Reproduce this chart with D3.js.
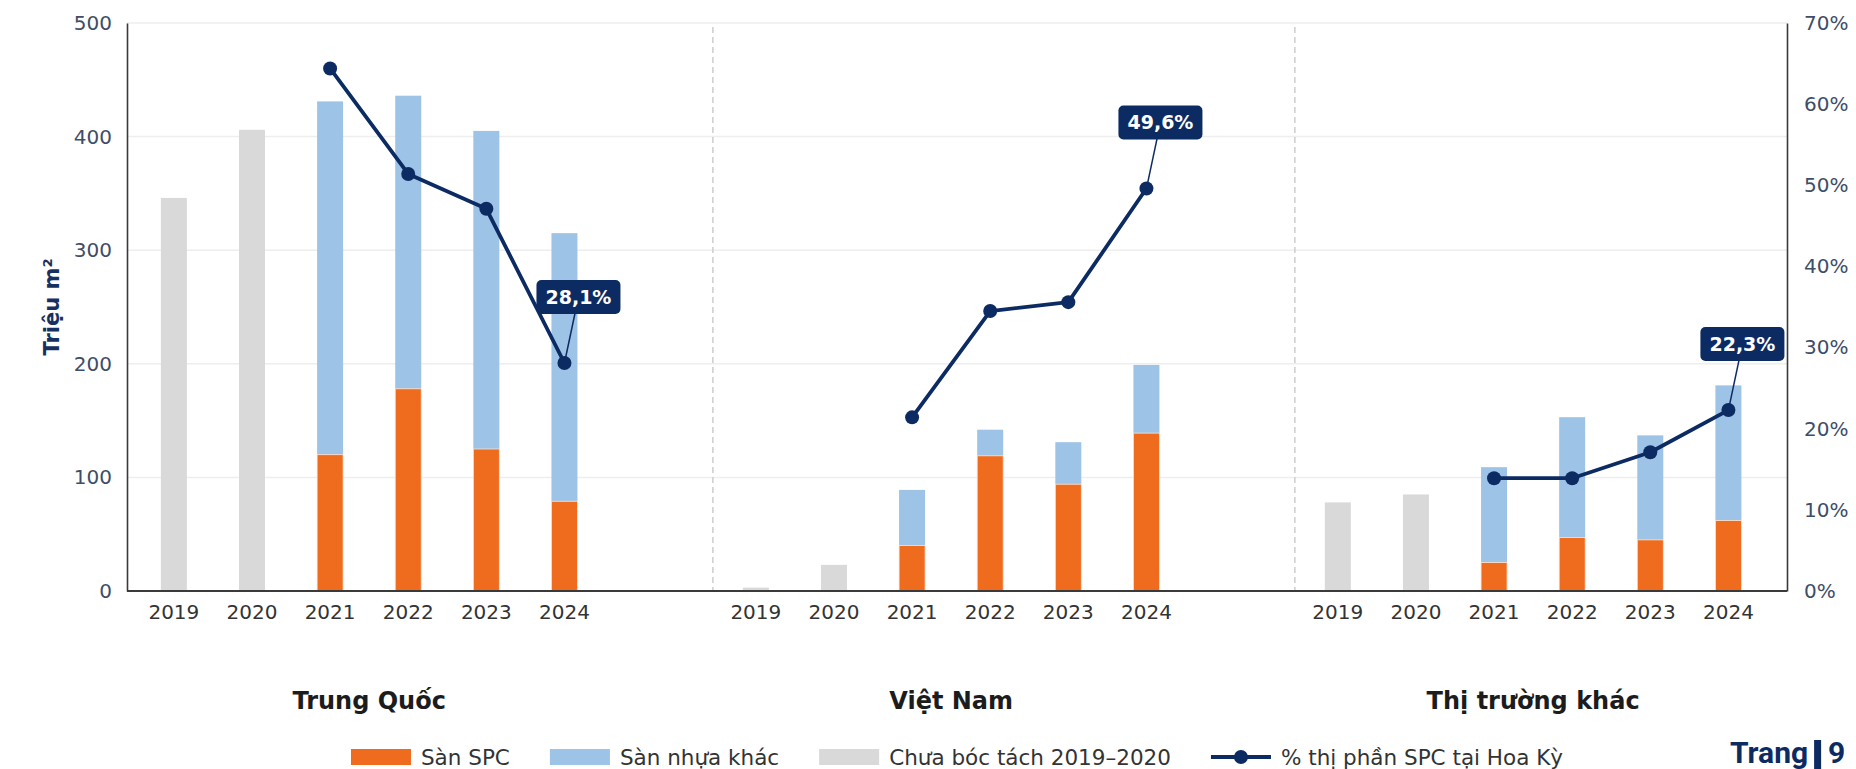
<!DOCTYPE html>
<html>
<head>
<meta charset="utf-8">
<script src="https://cdn.jsdelivr.net/npm/d3@7"></script>
<style>
  body { margin: 0; background: #fff; }
  svg { display: block; }
  text { font-family: "DejaVu Sans", sans-serif; }
</style>
</head>
<body>
<svg id="chart" width="1856" height="769"></svg>
<script>
// ---- Data (million m², share in %) ----
const groups = ["Trung Quốc", "Việt Nam", "Thị trường khác"];
const years = ["2019", "2020", "2021", "2022", "2023", "2024"];
// 2019–2020: total only, not split by floor type
const undivided = [[346, 406], [3, 23], [78, 85]];
// 2021–2024 split
const spcFloor = [[120, 178, 125, 79], [40, 119, 94, 139], [25, 47, 45, 62]];
const otherPlastic = [[311, 258, 280, 236], [49, 23, 37, 60], [84, 106, 92, 119]];
// SPC share of US imports, %
const spcShare = [[64.4, 51.4, 47.1, 28.1], [21.4, 34.5, 35.6, 49.6], [13.9, 13.9, 17.1, 22.3]];
const leftTicks = [0, 100, 200, 300, 400, 500];
const rightTicks = [0, 10, 20, 30, 40, 50, 60, 70];
const legendLabels = ["Sàn SPC", "Sàn nhựa khác", "Chưa bóc tách 2019–2020", "% thị phần SPC tại Hoa Kỳ"];

// ---- Style ----
const C = {
  spc: "#ef6c1f",
  other: "#9dc3e6",
  undivided: "#d9d9d9",
  navy: "#0d2b63",
  grid: "#eeeeee",
  spine: "#3a3a3a",
  tick: "#3e4d68",
  year: "#333333"
};

const svg = d3.select("#chart");
const plot = { left: 127, right: 1787, top: 23, bottom: 591 };
const groupStride = 7.45;   // slot units between group starts
const barW = 26;

const x = d3.scaleLinear().domain([-0.6, 20.65]).range([plot.left, plot.right]);
const yL = d3.scaleLinear().domain([0, 500]).range([plot.bottom, plot.top]);
const yR = d3.scaleLinear().domain([0, 70]).range([plot.bottom, plot.top]);
const slot = (g, i) => g * groupStride + i;

// ---- Grid ----
svg.append("g").selectAll("line")
  .data(leftTicks.filter(t => t > 0))
  .join("line")
  .attr("x1", plot.left).attr("x2", plot.right)
  .attr("y1", d => yL(d)).attr("y2", d => yL(d))
  .attr("stroke", C.grid).attr("stroke-width", 1.5);

// ---- Group dividers ----
svg.append("g").selectAll("line")
  .data([1, 2])
  .join("line")
  .attr("x1", g => x(slot(g, 0) - 0.55)).attr("x2", g => x(slot(g, 0) - 0.55))
  .attr("y1", plot.top + 4).attr("y2", plot.bottom)
  .attr("stroke", "#d0d0d0").attr("stroke-width", 1.6)
  .attr("stroke-dasharray", "6,4");

// ---- Bars ----
const bars = svg.append("g");
groups.forEach((grp, g) => {
  undivided[g].forEach((v, i) => {
    bars.append("rect")
      .attr("x", x(slot(g, i)) - barW / 2).attr("width", barW)
      .attr("y", yL(v)).attr("height", yL(0) - yL(v))
      .attr("fill", C.undivided);
  });
  spcFloor[g].forEach((v, j) => {
    const cx = x(slot(g, j + 2));
    const o = otherPlastic[g][j];
    bars.append("rect")
      .attr("x", cx - barW / 2).attr("width", barW)
      .attr("y", yL(v + o)).attr("height", yL(v) - yL(v + o))
      .attr("fill", C.other);
    bars.append("rect")
      .attr("x", cx - barW / 2).attr("width", barW)
      .attr("y", yL(v)).attr("height", yL(0) - yL(v))
      .attr("fill", C.spc)
      .attr("stroke", "#fbe3d3").attr("stroke-width", 0.8);
  });
});

// ---- Axes ----
const axL = svg.append("g").attr("transform", `translate(${plot.left},0)`)
  .call(d3.axisLeft(yL).tickValues(leftTicks).tickSize(0).tickPadding(15));
axL.select(".domain").attr("stroke", C.spine).attr("stroke-width", 1.6);
axL.selectAll("text").attr("font-size", 20).attr("fill", C.tick)
  .attr("font-family", "DejaVu Sans");

const axR = svg.append("g").attr("transform", `translate(${plot.right},0)`)
  .call(d3.axisRight(yR).tickValues(rightTicks).tickSize(0).tickPadding(17)
    .tickFormat(d => d + "%"));
axR.select(".domain").attr("stroke", C.spine).attr("stroke-width", 1.6);
axR.selectAll("text").attr("font-size", 20).attr("fill", C.tick)
  .attr("font-family", "DejaVu Sans");

svg.append("line")
  .attr("x1", plot.left).attr("x2", plot.right)
  .attr("y1", plot.bottom).attr("y2", plot.bottom)
  .attr("stroke", C.spine).attr("stroke-width", 1.8);

// Year labels and group names
const yearG = svg.append("g");
groups.forEach((grp, g) => {
  years.forEach((yr, i) => {
    yearG.append("text")
      .attr("x", x(slot(g, i))).attr("y", 619)
      .attr("text-anchor", "middle")
      .attr("font-size", 20).attr("fill", C.year)
      .text(yr);
  });
  svg.append("text")
    .attr("x", x(slot(g, 2.5))).attr("y", 709)
    .attr("text-anchor", "middle")
    .attr("font-size", 24).attr("font-weight", "bold").attr("fill", "#1c1c1c")
    .text(grp);
});

// Y-axis title
svg.append("text")
  .attr("transform", `translate(59,${(plot.top + plot.bottom) / 2}) rotate(-90)`)
  .attr("text-anchor", "middle")
  .attr("font-size", 21).attr("font-weight", "bold").attr("fill", "#17305f")
  .text("Triệu m²");

// ---- Share lines ----
const line = d3.line().x(d => d[0]).y(d => d[1]);
const lineG = svg.append("g");
groups.forEach((grp, g) => {
  const pts = spcShare[g].map((v, j) => [x(slot(g, j + 2)), yR(v)]);
  lineG.append("path")
    .attr("d", line(pts))
    .attr("fill", "none").attr("stroke", C.navy)
    .attr("stroke-width", 3.8).attr("stroke-linejoin", "round");
  lineG.selectAll(null).data(pts).join("circle")
    .attr("cx", d => d[0]).attr("cy", d => d[1]).attr("r", 7)
    .attr("fill", C.navy);

  // Callout on the 2024 value
  const last = pts[pts.length - 1];
  const val = spcShare[g][spcShare[g].length - 1];
  const bx = last[0] + 14, by = last[1] - 66;
  lineG.append("line")
    .attr("x1", last[0]).attr("y1", last[1])
    .attr("x2", bx).attr("y2", by)
    .attr("stroke", C.navy).attr("stroke-width", 1.5);
  lineG.append("rect")
    .attr("x", bx - 42).attr("y", by - 17)
    .attr("width", 84).attr("height", 34).attr("rx", 5)
    .attr("fill", C.navy);
  lineG.append("text")
    .attr("x", bx).attr("y", by).attr("dy", "0.36em")
    .attr("text-anchor", "middle")
    .attr("font-size", 19).attr("font-weight", "bold").attr("fill", "#fff")
    .text(val.toFixed(1).replace(".", ",") + "%");
});

// ---- Legend ----
const legend = svg.append("g");
const legendY = 757;
const legendGap = 40;
const kinds = ["spc", "other", "undivided", "line"];
let cursor = 0;
kinds.forEach((k, i) => {
  const item = legend.append("g").attr("transform", `translate(${cursor},0)`);
  if (k === "line") {
    item.append("line").attr("x1", 0).attr("x2", 60)
      .attr("y1", legendY).attr("y2", legendY)
      .attr("stroke", C.navy).attr("stroke-width", 3.8);
    item.append("circle").attr("cx", 30).attr("cy", legendY).attr("r", 7).attr("fill", C.navy);
  } else {
    item.append("rect").attr("x", 0).attr("y", legendY - 8)
      .attr("width", 60).attr("height", 16).attr("fill", C[k]);
  }
  const t = item.append("text")
    .attr("x", 70).attr("y", legendY).attr("dy", "0.36em")
    .attr("font-size", 21.5).attr("fill", "#333")
    .text(legendLabels[i]);
  cursor += 70 + t.node().getComputedTextLength() + legendGap;
});
const legendW = cursor - legendGap;
legend.attr("transform", `translate(${(plot.left + plot.right) / 2 - legendW / 2},0)`);

// ---- Page marker ----
const page = svg.append("g").attr("fill", C.navy)
  .attr("font-weight", "bold").attr("font-size", 30);
const pageFont = "Roboto, Liberation Sans, Arial, sans-serif";
const word = page.append("text").attr("x", 1730).attr("y", 763)
  .style("font-family", pageFont).text("Trang");
const wordEnd = 1730 + word.node().getComputedTextLength();
page.append("rect").attr("x", wordEnd + 6).attr("y", 740).attr("width", 7).attr("height", 29);
page.append("text").attr("x", wordEnd + 20).attr("y", 763)
  .style("font-family", pageFont).text("9");
</script>
</body>
</html>
